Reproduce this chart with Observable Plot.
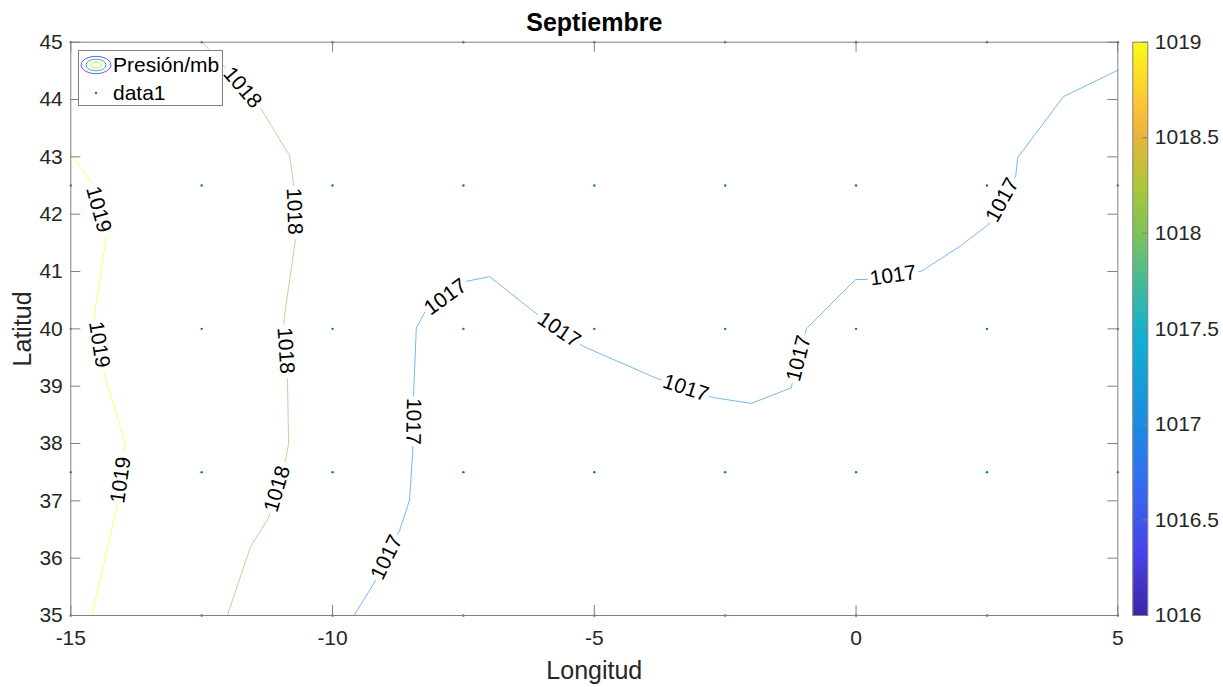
<!DOCTYPE html>
<html><head><meta charset="utf-8">
<script src="https://cdn.jsdelivr.net/npm/d3@7"></script>
<script src="https://cdn.jsdelivr.net/npm/@observablehq/plot@0.6"></script>
<style>
body{margin:0;background:#fff;}
#wrap{position:relative;width:1223px;height:687px;overflow:hidden;font-family:"Liberation Sans",Arial,sans-serif;}
#wrap > .abs{position:absolute;}
</style></head><body><div id="wrap"></div>
<script>
// ---------- data ----------
const title = "Septiembre";
const xLabel = "Longitud";
const yLabel = "Latitud";
const xTicks = [-15, -10, -5, 0, 5];
const yTicks = [35, 36, 37, 38, 39, 40, 41, 42, 43, 44, 45];
const cbTicks = [1016, 1016.5, 1017, 1017.5, 1018, 1018.5, 1019];
const cbDomain = [1016, 1019];
const legendNames = ["Presión/mb", "data1"];
const stationLon = [-15, -12.5, -10, -7.5, -5, -2.5, 0, 2.5, 5];
const stationLat = [35, 37.5, 40, 42.5, 45];
// parula colormap stops (position in [0,1], colour)
const parulaT = [0, 0.111, 0.238, 0.333, 0.492, 0.667, 0.746, 0.841, 0.889, 1];
const parulaC = ["#3e26a8", "#4743eb", "#3270f2", "#1c8ae2", "#0fb2d2", "#7dc35a", "#abc739", "#ecb53a", "#fec338", "#f9fb15"];

const contour1019 = [[-15,43.06],[-14.60,42.55],[-14.32,41.61],[-14.55,40.22],[-14.36,39.22],[-13.96,38.0],[-14.13,36.85],[-14.60,35]];
const contour1018 = [[-12.49,45],[-12.08,44.59],[-11.36,43.83],[-10.82,43.02],[-10.75,42.55],[-10.71,41.55],[-10.93,40.15],[-10.86,39.10],[-10.84,38.0],[-10.90,37.70],[-11.22,36.71],[-11.57,36.19],[-12.01,35]];
const contour1017 = [[-9.59,35],[-9.21,35.56],[-8.72,36.48],[-8.53,37.01],[-8.47,37.84],[-8.45,38.92],[-8.40,40.01],[-8.24,40.29],[-7.44,40.83],[-7.00,40.91],[-6.14,40.29],[-5.20,39.69],[-3.79,39.13],[-2.72,38.80],[-2.00,38.70],[-1.24,38.97],[-0.95,40.00],[-0.01,40.86],[0.15,40.86],[1.26,41.01],[2.00,41.45],[2.53,41.82],[3.05,42.67],[3.09,42.99],[3.96,44.05],[5,44.51]];

// label gaps on each contour: [lonStart, latStart, lonEnd, latEnd]
const labels1019 = [[-14.610,42.558,-14.324,41.611],[-14.542,40.233,-14.370,39.222],[-14.127,36.849,-13.968,37.878]];
const labels1018 = [[-12.083,44.594,-11.357,43.826],[-10.752,42.558,-10.708,41.541],[-10.931,40.146,-10.855,39.099],[-11.218,36.715,-10.899,37.704]];
const labels1017 = [[-9.212,35.553,-8.721,36.478],[-8.448,38.925,-8.467,37.848],[-8.244,40.290,-7.441,40.826],[-6.142,40.280,-5.200,39.692],[-3.787,39.129,-2.717,38.808],[-1.239,38.972,-0.952,40.001],[0.148,40.856,1.264,41.006],[2.536,41.820,3.046,42.675]];

// ---------- layout ----------
const W = 1223, H = 687;
const mL = 70.3, mR = 105.7, mT = 41.7, mB = 72;
const innerW = W - mL - mR, innerH = H - mT - mB;
const axisGray = "#808080";
const txt = "#262626";
const FS = 21;

const colorDomain = parulaT.map(t => cbDomain[0] + t * (cbDomain[1] - cbDomain[0]));
const colorScale = {type: "linear", domain: colorDomain, range: parulaC, interpolate: "rgb"};

const contours = [[1019, contour1019], [1018, contour1018], [1017, contour1017]];
const lineRows = contours.flatMap(([level, pts]) => pts.map(([lon, lat]) => ({level, lon, lat})));

const sx = Plot.scale({x: {domain: [-15, 5], range: [mL, W - mR]}});
const sy = Plot.scale({y: {domain: [35, 45], range: [H - mB, mT]}});
const labelSets = [[1019, labels1019], [1018, labels1018], [1017, labels1017]];
const labelRows = labelSets.flatMap(([level, arr]) => arr.map(([a, b, c, d]) => {
  const dx = sx.apply(c) - sx.apply(a), dy = sy.apply(d) - sy.apply(b);
  return {level, lon: (a + c) / 2, lat: (b + d) / 2, angle: Math.atan2(dy, dx) * 180 / Math.PI};
}));

const stations = d3.cross(stationLon, stationLat).map(([lon, lat]) => ({lon, lat}));

const main = Plot.plot({
  width: W, height: H,
  marginLeft: mL, marginRight: mR, marginTop: mT, marginBottom: mB,
  x: {domain: [-15, 5], label: null},
  y: {domain: [35, 45], label: null},
  color: colorScale,
  style: {fontFamily: "'Liberation Sans', Arial, sans-serif", color: txt, background: "transparent", overflow: "visible"},
  marks: [
    Plot.line(lineRows, {x: "lon", y: "lat", z: "level", stroke: "level", strokeWidth: 1, strokeOpacity: 0.6}),
    Plot.text(labelRows, {x: "lon", y: "lat", text: d => String(d.level), rotate: "angle", fontSize: 21, fill: "#000", stroke: "white", strokeWidth: 11, paintOrder: "stroke"}),
    Plot.dot(stations, {x: "lon", y: "lat", r: 1.2, fill: "#0072bd", stroke: null}),
    Plot.frame({stroke: axisGray}),
    Plot.ruleX(xTicks, {x: d => d, insetTop: innerH - 10, stroke: axisGray}),
    Plot.ruleX(xTicks, {x: d => d, insetBottom: innerH - 10, stroke: axisGray}),
    Plot.ruleY(yTicks, {y: d => d, insetRight: innerW - 10, stroke: axisGray}),
    Plot.ruleY(yTicks, {y: d => d, insetLeft: innerW - 10, stroke: axisGray}),
    Plot.axisX(xTicks, {anchor: "bottom", tickSize: 0, tickPadding: 15, fontSize: FS, tickFormat: d => String(d), fill: txt, label: null}),
    Plot.axisY(yTicks, {anchor: "left", tickSize: 0, tickPadding: 8, fontSize: FS, tickFormat: d => String(d), fill: txt, label: null}),
    Plot.text([xLabel], {text: d => d, frameAnchor: "bottom", lineAnchor: "middle", dy: 55, fontSize: 25, fill: txt}),
    Plot.text([yLabel], {text: d => d, frameAnchor: "left", textAnchor: "middle", lineAnchor: "middle", dx: -48, rotate: -90, fontSize: 25, fill: txt}),
    Plot.text([title], {text: d => d, frameAnchor: "top", lineAnchor: "middle", dy: -19, fontSize: 25, fontWeight: "bold", fill: "#000"})
  ]
});
main.classList.add("abs");
main.style.left = "0px"; main.style.top = "0px";

// ---------- colorbar ----------
const cbLeft = 1120, cbW = 103, barL = 12.3, barW = 15;
const cb = Plot.plot({
  width: cbW, height: H,
  marginLeft: barL, marginRight: cbW - barL - barW, marginTop: mT, marginBottom: mB,
  x: {domain: [0, 1], axis: null},
  y: {domain: cbDomain, label: null},
  color: colorScale,
  style: {fontFamily: "'Liberation Sans', Arial, sans-serif", color: txt, background: "transparent", overflow: "visible"},
  marks: [
    Plot.raster({x1: 0, x2: 1, y1: cbDomain[0], y2: cbDomain[1], width: 1, height: 400, fill: (x, y) => y, imageRendering: "auto"}),
    Plot.frame({stroke: axisGray}),
    Plot.ruleY(cbTicks, {y: d => d, insetLeft: barW - 5, stroke: axisGray}),
    Plot.axisY(cbTicks, {anchor: "right", tickSize: 0, tickPadding: 7, fontSize: FS, tickFormat: d => String(d), fill: txt, label: null})
  ]
});
cb.classList.add("abs");
cb.style.left = cbLeft + "px"; cb.style.top = "0px";

// ---------- legend ----------
const leg = document.createElement("div");
leg.className = "abs";
Object.assign(leg.style, {left: "78px", top: "50px", width: "143px", height: "54px", border: "1px solid " + axisGray, background: "#fff"});
leg.innerHTML = `
<svg width="36" height="24" style="position:absolute;left:-1px;top:1.5px" viewBox="0 0 36 24">
  <ellipse cx="18" cy="12" rx="15" ry="8.7" fill="none" stroke="#6c5fd8" stroke-width="1"/>
  <ellipse cx="18" cy="12" rx="10" ry="5.8" fill="none" stroke="#1fc0c8" stroke-width="1"/>
  <ellipse cx="18" cy="12" rx="5.2" ry="3" fill="none" stroke="#e8e820" stroke-width="1"/>
</svg>
<svg width="10" height="10" style="position:absolute;left:12px;top:37px"><circle cx="5" cy="5" r="1.2" fill="#0072bd"/></svg>
<div style="position:absolute;left:34px;top:2px;font-size:21px;color:#000;line-height:24px;white-space:nowrap">${legendNames[0]}</div>
<div style="position:absolute;left:34px;top:30px;font-size:21px;color:#000;line-height:24px;white-space:nowrap">${legendNames[1]}</div>`;

const wrap = document.getElementById("wrap");
wrap.appendChild(main);
wrap.appendChild(cb);
wrap.appendChild(leg);
</script></body></html>
